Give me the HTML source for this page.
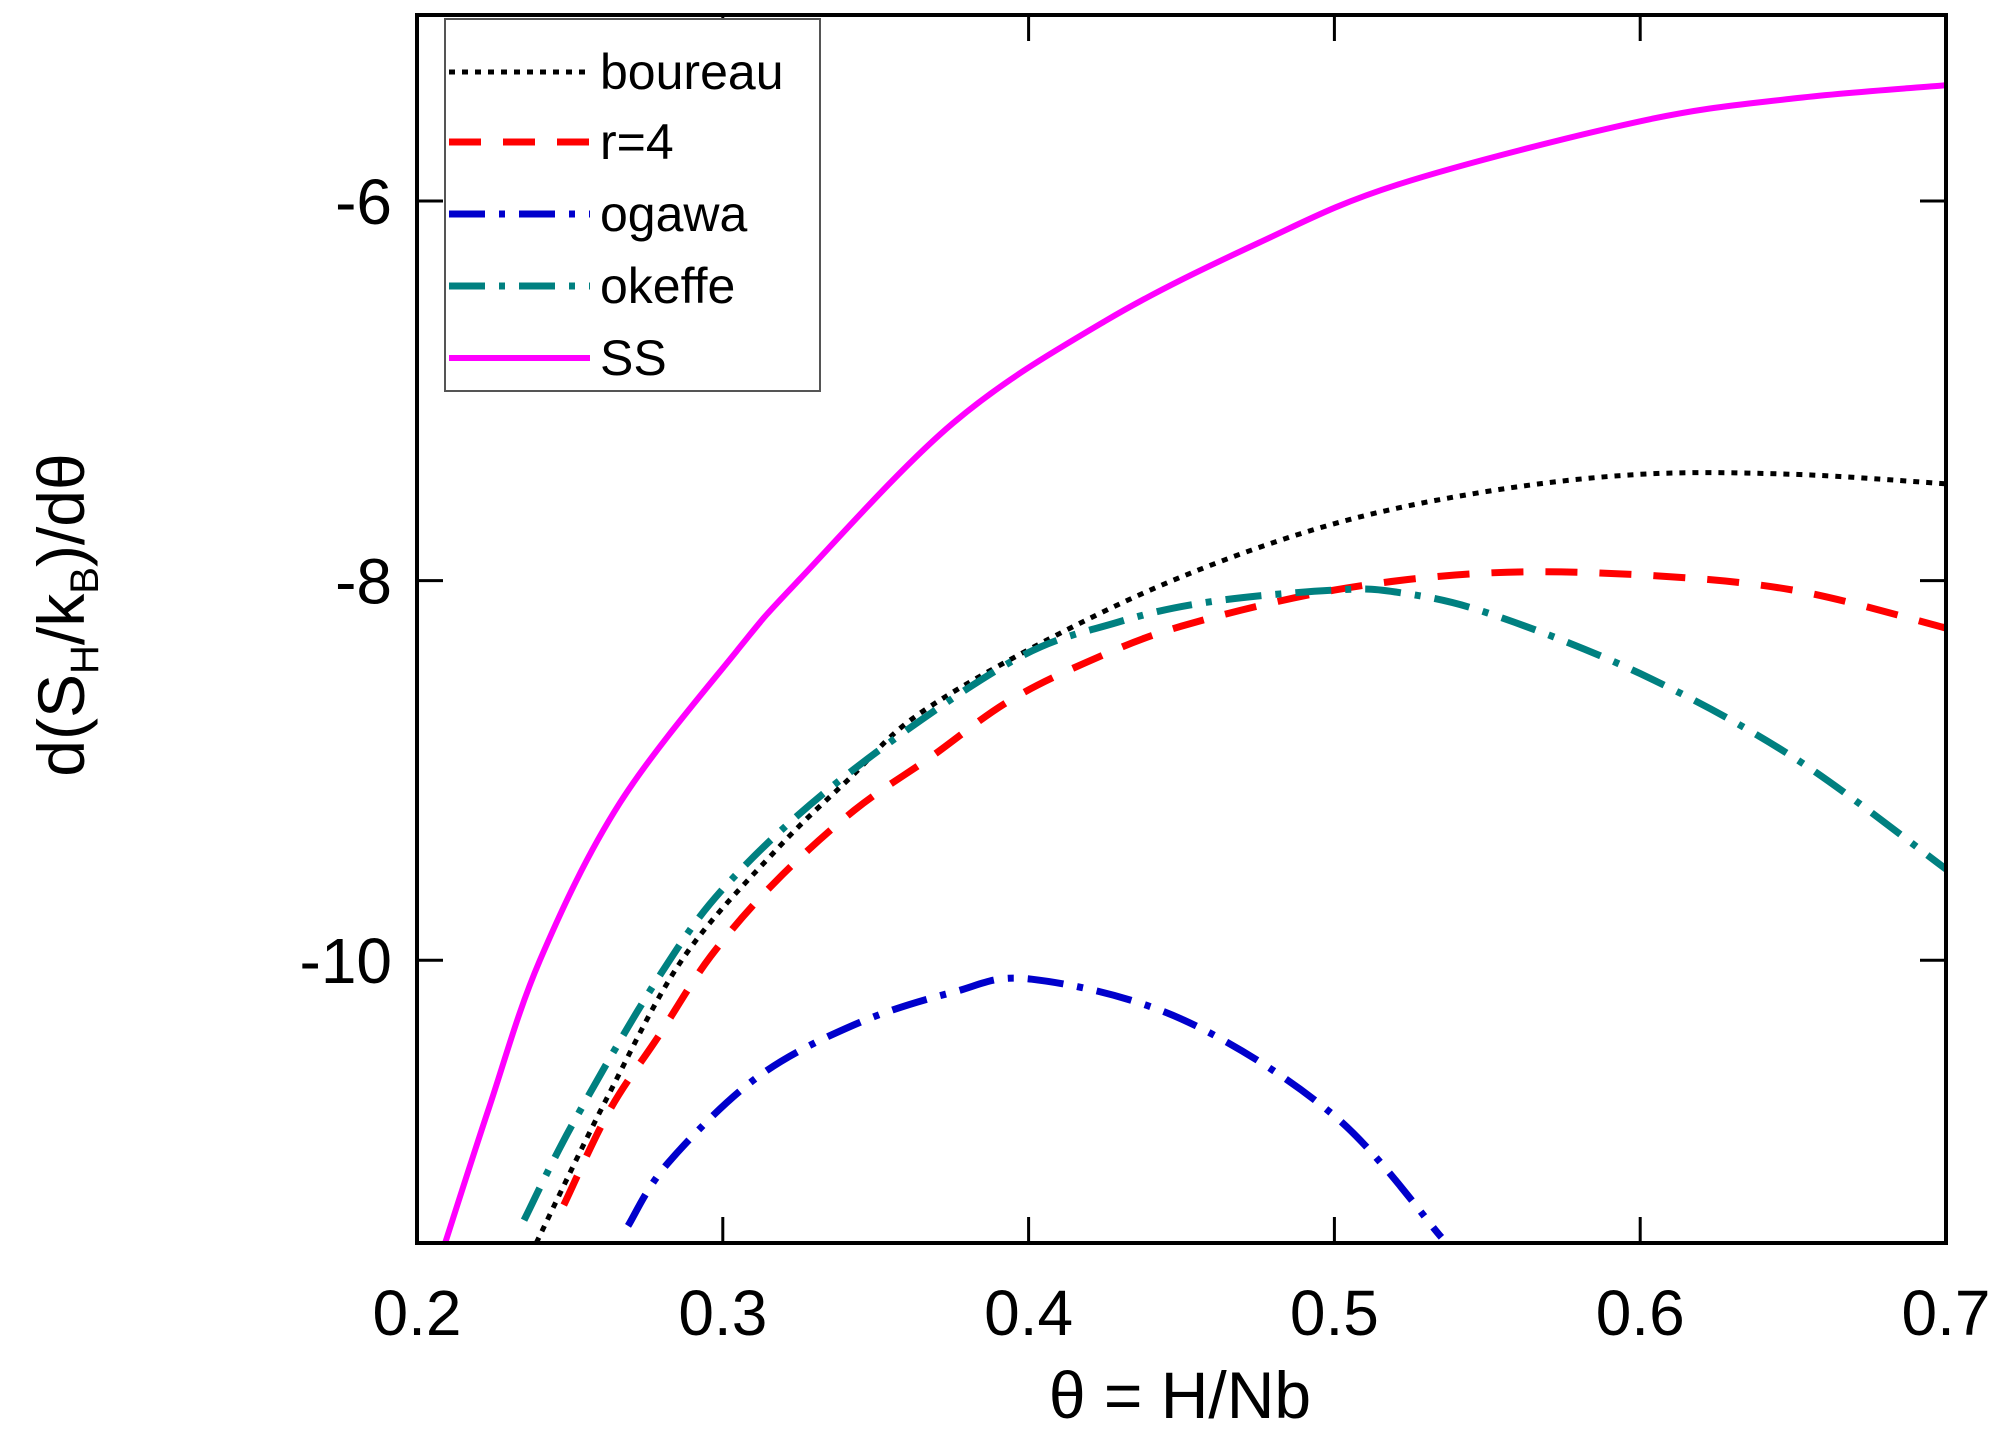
<!DOCTYPE html>
<html><head><meta charset="utf-8"><style>
html,body{margin:0;padding:0;background:#fff;}
svg{display:block;font-family:"Liberation Sans",sans-serif;}
</style></head><body>
<svg id="chart" width="2010" height="1447" viewBox="0 0 2010 1447">
<g id="series"></g>
<g id="axes"></g>
<g id="legend"></g>
</svg>
<script>
const xTicks=[0.2,0.3,0.4,0.5,0.6,0.7];
const xTickLabels=["0.2","0.3","0.4","0.5","0.6","0.7"];
const yTicks=[-6,-8,-10];
const yTickLabels=["-6","-8","-10"];
const ssX=[0.209,0.2235,0.2402,0.2664,0.3046,0.3253,0.3753,0.4253,0.4753,0.5214,0.6,0.65,0.7];
const ssY=[-11.5,-10.78,-10.0,-9.17,-8.37,-7.99,-7.17,-6.63,-6.22,-5.91,-5.58,-5.46,-5.39];
const boureauX=[0.239,0.262,0.287,0.318,0.3416,0.3635,0.404,0.45,0.5,0.55,0.6,0.65,0.7];
const boureauY=[-11.49,-10.73,-9.99,-9.41,-9.04,-8.71,-8.33,-7.98,-7.7,-7.53,-7.44,-7.44,-7.49];
const r4X=[0.248,0.263,0.279,0.296,0.317,0.343,0.368,0.393,0.419,0.45,0.5,0.55,0.6,0.65,0.7];
const r4Y=[-11.29,-10.79,-10.40,-9.98,-9.59,-9.21,-8.93,-8.64,-8.43,-8.24,-8.05,-7.96,-7.97,-8.05,-8.25];
const okeffeX=[0.235,0.251,0.279,0.302,0.340,0.394,0.429,0.46,0.5,0.52,0.55,0.6,0.65,0.7];
const okeffeY=[-11.37,-10.86,-10.09,-9.59,-9.03,-8.43,-8.22,-8.11,-8.05,-8.06,-8.17,-8.49,-8.93,-9.52];
const ogawaX=[0.269,0.282,0.311,0.343,0.375,0.401,0.45,0.5,0.535];
const ogawaY=[-11.40,-11.07,-10.62,-10.34,-10.17,-10.10,-10.31,-10.82,-11.46];

const L=417,R=1946,T=15,B=1243;
const xMin=0.2,xMax=0.7,yMin=-11.49,yMax=-5.02;
function sx(v){return L+(v-xMin)/(xMax-xMin)*(R-L);}
function sy(v){return B-(v-yMin)/(yMax-yMin)*(B-T);}
const NS="http://www.w3.org/2000/svg";
function mk(tag,attrs,parent){const e=document.createElementNS(NS,tag);for(const k in attrs)e.setAttribute(k,attrs[k]);parent.appendChild(e);return e;}
function smoothPath(xs,ys){
  const p=xs.map((x,i)=>[sx(x),sy(ys[i])]);
  let d="M"+p[0][0]+","+p[0][1];
  for(let i=0;i<p.length-1;i++){
    const p0=p[Math.max(0,i-1)],p1=p[i],p2=p[i+1],p3=p[Math.min(p.length-1,i+2)];
    const c1=[p1[0]+(p2[0]-p0[0])/6,p1[1]+(p2[1]-p0[1])/6];
    const c2=[p2[0]-(p3[0]-p1[0])/6,p2[1]-(p3[1]-p1[1])/6];
    d+=" C"+c1[0]+","+c1[1]+" "+c2[0]+","+c2[1]+" "+p2[0]+","+p2[1];
  }
  return d;
}
const sg=document.getElementById('series');
const cp=mk('clipPath',{id:'clip'},sg);
mk('rect',{x:L,y:T,width:R-L,height:B-T},cp);
const series=[
 {name:'ss-line',x:ssX,y:ssY,c:'#ff00ff',w:6,dash:''},
 {name:'boureau-line',x:boureauX,y:boureauY,c:'#000',w:5,dash:'6 7'},
 {name:'r4-line',x:r4X,y:r4Y,c:'#ff0000',w:7,dash:'32 22'},
 {name:'okeffe-line',x:okeffeX,y:okeffeY,c:'#008080',w:7,dash:'36 14 6 14'},
 {name:'ogawa-line',x:ogawaX,y:ogawaY,c:'#0000cc',w:7,dash:'36 14 6 14'}
];
series.forEach(s=>{
  const p=mk('path',{d:smoothPath(s.x,s.y),fill:'none',stroke:s.c,'stroke-width':s.w,'stroke-dasharray':s.dash,'clip-path':'url(#clip)'},sg);
  
  
});
const ag=document.getElementById('axes');
const fr=mk('rect',{x:L,y:T,width:R-L,height:B-T,fill:'none',stroke:'#000','stroke-width':4},ag);


xTicks.forEach((v,i)=>{
  const x=sx(v);
  mk('line',{x1:x,y1:B,x2:x,y2:B-26,stroke:'#000','stroke-width':3},ag);
  mk('line',{x1:x,y1:T,x2:x,y2:T+26,stroke:'#000','stroke-width':3},ag);
  const t=mk('text',{x:x,y:1335,'text-anchor':'middle','font-size':64},ag);
  t.textContent=xTickLabels[i];
  
  
});
yTicks.forEach((v,i)=>{
  const y=sy(v);
  mk('line',{x1:L,y1:y,x2:L+26,y2:y,stroke:'#000','stroke-width':3},ag);
  mk('line',{x1:R,y1:y,x2:R-26,y2:y,stroke:'#000','stroke-width':3},ag);
  const t=mk('text',{x:392,y:y+23,'text-anchor':'end','font-size':64},ag);
  t.textContent=yTickLabels[i];
  
  
});
const xt=mk('text',{x:1180,y:1418,'text-anchor':'middle','font-size':66},ag);
xt.textContent='θ = H/Nb';


const yt=mk('text',{transform:'translate(84,615) rotate(-90)','text-anchor':'middle','font-size':66},ag);
yt.innerHTML='d(S<tspan font-size="40" dy="14">H</tspan><tspan dy="-14">/k</tspan><tspan font-size="40" dy="14">B</tspan><tspan dy="-14">)/dθ</tspan>';


const lg=document.getElementById('legend');
mk('rect',{x:445,y:19,width:375,height:372,fill:'#fff',stroke:'#555','stroke-width':2},lg);
const legY=[72,142,214,286,358];
const legLabels={'boureau-line':'boureau','r4-line':'r=4','ogawa-line':'ogawa','okeffe-line':'okeffe','ss-line':'SS'};
const legOrder=['boureau-line','r4-line','ogawa-line','okeffe-line','ss-line'];
legOrder.forEach((nm,i)=>{
  const ss=series.find(q=>q.name===nm);
  const g=mk('g',{},lg);
  
  
  mk('line',{x1:449,y1:legY[i],x2:590,y2:legY[i],stroke:ss.c,'stroke-width':ss.w,'stroke-dasharray':ss.dash},g);
  const t=mk('text',{x:600,y:legY[i]+17,'font-size':50},g);
  t.textContent=legLabels[nm];
});
</script>
</body></html>
